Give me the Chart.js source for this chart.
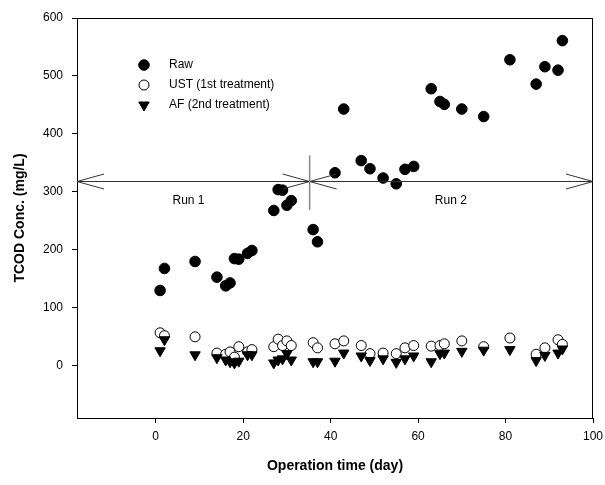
<!DOCTYPE html>
<html>
<head>
<meta charset="utf-8">
<script src="https://cdn.jsdelivr.net/npm/chart.js@4"></script>
<style>
  html, body { margin: 0; padding: 0; background: #fff; }
  #wrap { width: 605px; height: 485px; }
</style>
</head>
<body>
<div id="wrap"><canvas id="chart" width="605" height="485"></canvas></div>
<script>
// operation days (same days for all three series)
const days = [1, 2, 9, 14, 16, 17, 18, 19, 21, 22, 27, 28, 29, 30, 31, 36, 37, 41, 43, 47,
    49, 52, 55, 57, 59, 63, 65, 66, 70, 75, 81, 87, 89, 92, 93];
const raw = [130, 168, 180, 153, 138, 143, 185, 184, 194, 199, 268, 304, 303, 277, 285, 235, 214, 333, 443, 354,
    340, 324, 314, 339, 344, 478, 456, 451, 443, 430, 528, 486, 516, 510, 561];
const ust = [57, 52, 50, 22, 20, 24, 15, 33, 24, 28, 33, 46, 35, 43, 35, 40, 31, 38, 43, 35,
    21, 22, 21, 31, 35, 34, 35, 38, 43, 33, 48, 20, 31, 45, 37];
const af = [26, 45, 19, 14, 10, 7, 5, 8, 19, 19, 5, 10, 12, 21, 10, 7, 7, 8, 22, 17,
    9, 12, 6, 12, 17, 7, 21, 22, 25, 27, 28, 9, 18, 22, 29];

const seriesNames = ["Raw", "UST (1st treatment)", "AF (2nd treatment)"];
const xTicks = [0, 20, 40, 60, 80, 100];
const yTicks = [0, 100, 200, 300, 400, 500, 600];
const runLabels = ["Run 1", "Run 2"];

const FONT = "'Liberation Sans', Arial, sans-serif";

function pts(ys) {
    return days.map((d, i) => ({ x: d, y: ys[i] }));
}

// frame, run arrows and legend
const extras = {
    id: "extras",
    afterDatasetsDraw(c) {
        const ctx = c.ctx;
        const a = c.chartArea;
        const xs = c.scales.x, ys = c.scales.y;
        ctx.save();

        // box
        ctx.strokeStyle = "#000";
        ctx.lineWidth = 1;
        ctx.strokeRect(a.left + 0.5, a.top + 0.5, a.right - a.left - 1, a.bottom - a.top);

        // run arrows
        const yA = Math.round(ys.getPixelForValue(318)) + 0.5;
        const xm = xs.getPixelForValue(35.2);
        const L = 27, H = 7.5;
        ctx.strokeStyle = "#333";
        ctx.lineWidth = 1;
        ctx.beginPath();
        ctx.moveTo(a.left, yA); ctx.lineTo(a.right, yA);
        ctx.moveTo(a.left + L, yA - H); ctx.lineTo(a.left, yA); ctx.lineTo(a.left + L, yA + H);
        ctx.moveTo(a.right - L, yA - H); ctx.lineTo(a.right, yA); ctx.lineTo(a.right - L, yA + H);
        // middle, both arrows meeting
        ctx.moveTo(xm - L, yA - H); ctx.lineTo(xm, yA); ctx.lineTo(xm - L, yA + H);
        ctx.moveTo(xm + L, yA - H); ctx.lineTo(xm, yA); ctx.lineTo(xm + L, yA + H);
        ctx.stroke();

        ctx.strokeStyle = "#888";
        ctx.lineWidth = 1.5;
        ctx.beginPath();
        ctx.moveTo(xm, ys.getPixelForValue(363));
        ctx.lineTo(xm, ys.getPixelForValue(269));
        ctx.stroke();

        ctx.fillStyle = "#000";
        ctx.font = "12px " + FONT;
        ctx.textAlign = "center";
        ctx.textBaseline = "middle";
        ctx.fillText(runLabels[0], xs.getPixelForValue(7.5), yA + 19);
        ctx.fillText(runLabels[1], xs.getPixelForValue(67.5), yA + 19);

        // legend
        const lx = 144, ly = 65, step = 20;
        c.data.datasets.forEach((ds, i) => {
            const y = ly + i * step;
            ctx.fillStyle = ds.backgroundColor;
            ctx.strokeStyle = ds.borderColor;
            ctx.lineWidth = ds.borderWidth;
            Chart.helpers.drawPoint(ctx, {
                pointStyle: ds.pointStyle,
                radius: ds.pointRadius,
                rotation: ds.pointRotation || 0,
                borderWidth: ds.borderWidth
            }, lx, y);
            ctx.fillStyle = "#000";
            ctx.textAlign = "left";
            ctx.fillText(ds.label, lx + 25, y);
        });
        ctx.restore();
    }
};

new Chart(document.getElementById("chart"), {
    type: "scatter",
    data: {
        datasets: [
            { label: seriesNames[0], data: pts(raw), pointStyle: "circle", pointRadius: 5.3,
              backgroundColor: "#000", borderColor: "#000", borderWidth: 1, order: 3 },
            { label: seriesNames[1], data: pts(ust), pointStyle: "circle", pointRadius: 5,
              backgroundColor: "#fff", borderColor: "#000", borderWidth: 1, order: 2 },
            { label: seriesNames[2], data: pts(af), pointStyle: "triangle", pointRadius: 6, pointRotation: 180,
              backgroundColor: "#000", borderColor: "#000", borderWidth: 1, order: 1 }
        ]
    },
    options: {
        responsive: false,
        animation: false,
        layout: { padding: { top: 18, right: 12, left: 8, bottom: 0 } },
        plugins: { legend: { display: false }, tooltip: { enabled: false } },
        elements: { point: { hoverRadius: 5 } },
        scales: {
            x: {
                type: "linear",
                min: -18, max: 100,
                afterBuildTicks: s => { s.ticks = xTicks.map(v => ({ value: v })); },
                afterFit: s => { s.height = 67; s.paddingLeft = 0; s.paddingRight = 0; },
                grid: { drawOnChartArea: false, drawTicks: true, tickLength: 5, color: "#000" },
                border: { color: "#000" },
                ticks: { color: "#000", font: { family: FONT, size: 12 }, padding: 6, maxRotation: 0 },
                title: { display: true, text: "Operation time (day)", color: "#000",
                         font: { family: FONT, size: 14, weight: "bold" }, padding: { top: 4, bottom: 10 } }
            },
            y: {
                type: "linear",
                min: -90, max: 600,
                afterBuildTicks: s => { s.ticks = yTicks.map(v => ({ value: v })); },
                afterFit: s => { s.width = 69; s.paddingTop = 0; s.paddingBottom = 0; },
                grid: { drawOnChartArea: false, drawTicks: true, tickLength: 5, color: "#000" },
                border: { color: "#000" },
                ticks: { color: "#000", font: { family: FONT, size: 12 }, padding: 9 },
                title: { display: true, text: "TCOD Conc. (mg/L)", color: "#000",
                         font: { family: FONT, size: 14, weight: "bold" }, padding: { bottom: 4 } }
            }
        }
    },
    plugins: [extras]
});
</script>
</body>
</html>
